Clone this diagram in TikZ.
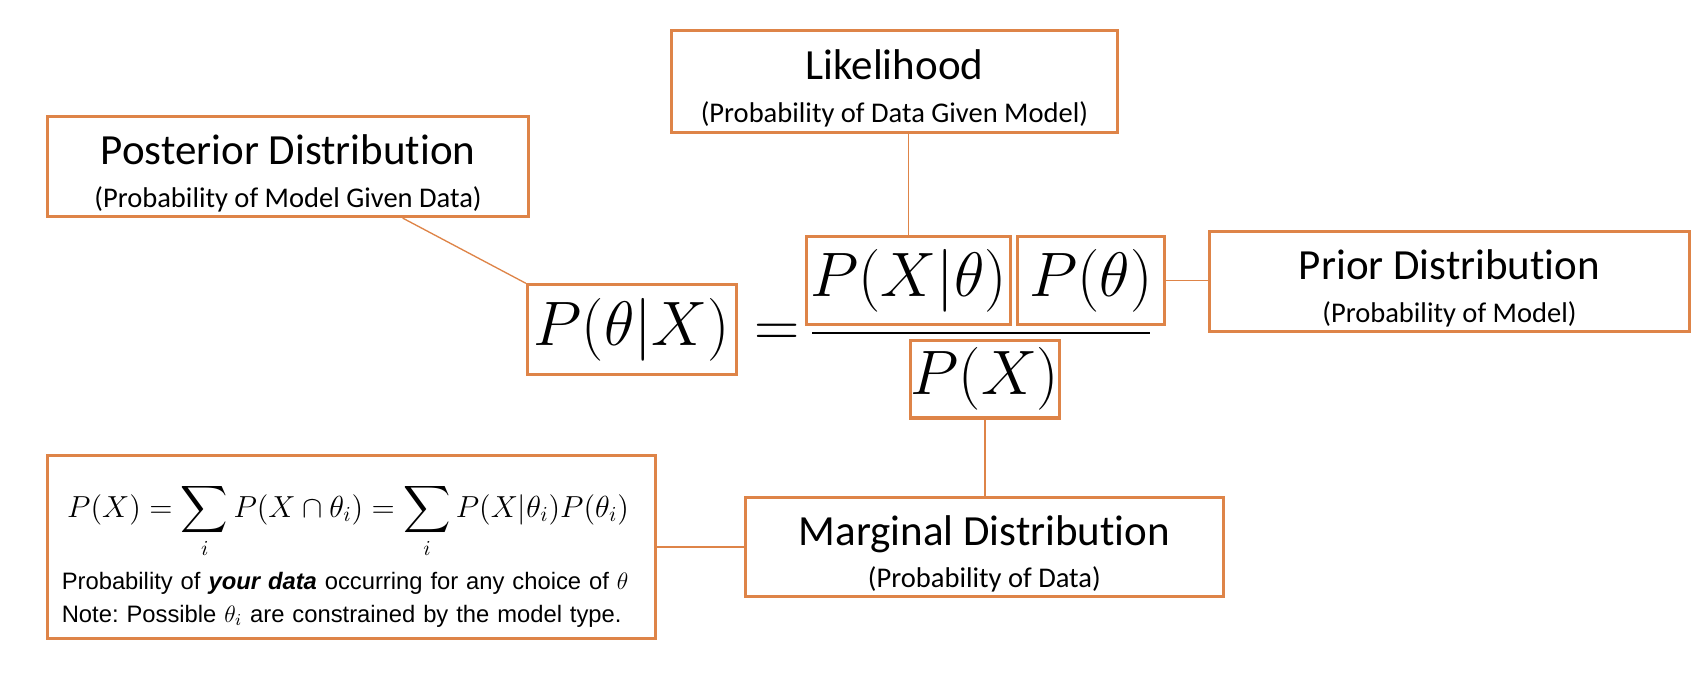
\RequirePackage{fix-cm}
\documentclass[tikz,border=0pt]{standalone}
\usepackage{amsmath}
\usepackage[no-math]{fontspec}
\setmainfont[Ligatures=NoCommon]{Carlito}
\newfontfamily\arialfont{Liberation Sans}
\usetikzlibrary{calc}
\definecolor{boxorange}{RGB}{222,132,72}

\newcommand{\boxtext}[2]{{\fontsize{22.6}{24}\selectfont\rule{0pt}{23pt}#1}\\{#2}}

\begin{document}
\frenchspacing
\begin{tikzpicture}[x=0.02cm,y=-0.02cm,
  label box/.style={draw=boxorange, line width=1.6pt, align=center, inner sep=0pt, font=\fontsize{15}{22.5}\selectfont},
  math box/.style={draw=boxorange, line width=1.6pt, inner sep=0pt, font=\fontsize{33}{40}\selectfont},
  link/.style={boxorange, line width=0.7pt}]
\useasboundingbox (0,0) rectangle (1568,626);
\node[label box, minimum width=8.88cm, minimum height=1.84cm] (post) at (266,154) {\boxtext{Posterior Distribution}{(Probability of Model Given Data)}};
\node[label box, minimum width=8.24cm, minimum height=1.88cm] (like) at (826,75) {\boxtext{Likelihood}{(Probability of Data Given Model)}};
\node[label box, minimum width=8.86cm, minimum height=1.84cm] (prior) at (1338.5,260) {\boxtext{Prior Distribution}{(Probability of Model)}};
\node[label box, minimum width=8.84cm, minimum height=1.84cm] (marg) at (909,505) {\boxtext{Marginal Distribution}{(Probability of Data)}};

\node[math box, minimum width=3.86cm, minimum height=1.66cm] (post eq) at (583.5,304.5) {$P(\theta|X)$};
\node[font=\fontsize{33}{40}\selectfont] (equals) at (718,310) {$=$};
\node[math box, minimum width=3.76cm, minimum height=1.64cm] (like eq) at (839,259) {$P(X|\theta)$};
\node[math box, minimum width=2.70cm, minimum height=1.64cm] (prior eq) at (1007.5,259) {$P(\theta)$};
\node[math box, minimum width=2.74cm, minimum height=1.44cm] (marg eq) at (909.5,350) {$P(X)$};
\draw[line width=1.4pt] (750,307.5) -- (1062,307.5);

\node[draw=boxorange, line width=1.6pt, minimum width=11.22cm, minimum height=3.38cm, text width=10.7cm, align=left, inner xsep=0.26cm, font=\arialfont\fontsize{12.5}{17}\selectfont] (sum) at (324.5,505.5)
  {\hspace{0.1cm}{\fontsize{16}{20}\selectfont\rule{0pt}{26pt}$\displaystyle P(X)=\sum_i P(X\cap\theta_i)=\sum_i P(X|\theta_i)P(\theta_i)$}\\[6.3pt]
  Probability of \textbf{\textit{your data}} occurring for any choice of $\theta$\\
  Note: Possible $\theta_i$ are constrained by the model type.};

\draw[link] ($(post.south west)!0.737!(post.south east)$) -- (post eq.north west);
\draw[link] (like eq.north) -- (like eq.north |- like.south);
\draw[link] (prior eq.east) -- (prior eq.east -| prior.west);
\draw[link] (marg eq.south) -- (marg eq.south |- marg.north);
\draw[link] (sum.east |- marg.west) -- (marg.west);
\end{tikzpicture}
\end{document}
